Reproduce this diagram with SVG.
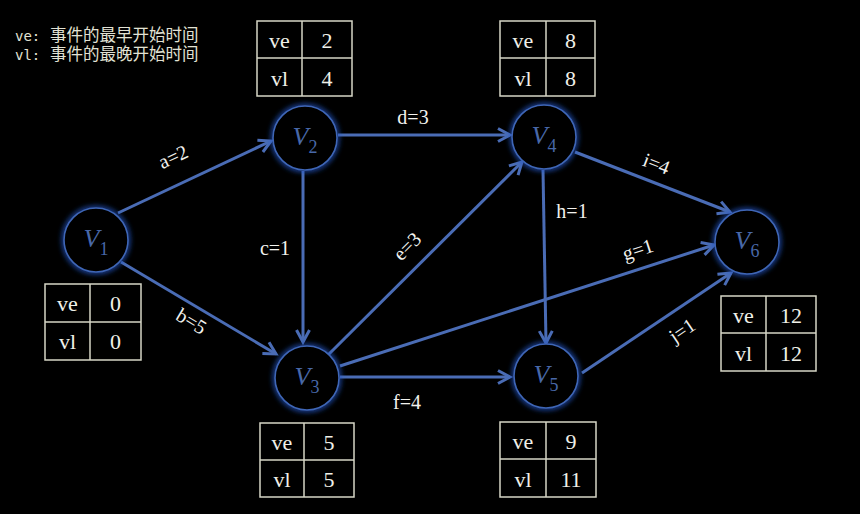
<svg xmlns="http://www.w3.org/2000/svg" width="860" height="514" viewBox="0 0 860 514">
  <style>
    .legend { font-family: "DejaVu Sans Mono", "Noto Sans CJK SC", monospace; fill: #e2e2d4; }
    .edge { stroke: #4a6cb5; stroke-width: 3; fill: none; marker-end: url(#arrow); }
    .elabel { font-family: "Liberation Serif", "Times New Roman", serif; font-size: 20px; fill: #f2f2ee; text-anchor: middle; }
    .ring-glow { fill: none; stroke: #2356c8; stroke-width: 5; stroke-opacity: 0.75; filter: url(#glow); }
    .ring { fill: none; stroke: #3f66b6; stroke-width: 1.6; }
    .vname { font-family: "Liberation Serif", "DejaVu Serif", serif; font-style: italic; font-size: 26px; fill: #4868a8; text-anchor: middle; }
    .vsub { font-style: normal; font-size: 18px; }
    .cell { fill: #000; stroke: #d6d6c6; stroke-width: 1.5; }
    .ttext { font-family: "Liberation Serif", "Times New Roman", serif; font-size: 22px; fill: #f0f0e8; text-anchor: middle; }
  </style>
  <defs>
    <marker id="arrow" markerUnits="userSpaceOnUse" markerWidth="20" markerHeight="20" viewBox="-16 -10 20 20" refX="0" refY="0" orient="auto">
      <path d="M -12 -6.5 L 0 0 L -12 6.5" fill="none" stroke="#4a6cb5" stroke-width="3" stroke-linejoin="miter"/>
    </marker>
    <filter id="glow" x="-50%" y="-50%" width="200%" height="200%">
      <feGaussianBlur stdDeviation="2.5"/>
    </filter>
  </defs>

  <rect width="860" height="514" fill="#000"/>

  <!-- legend -->
  <g id="legend" class="legend">
    <text x="15" y="41" font-size="14">ve:<tspan x="50" font-size="16.5">事件的最早开始时间</tspan></text>
    <text x="15" y="60" font-size="14">vl:<tspan x="50" font-size="16.5">事件的最晚开始时间</tspan></text>
  </g>

  <!-- connectors -->
  <g id="edges">
    <line class="edge" x1="118" y1="213" x2="271" y2="141"/>
    <line class="edge" x1="121" y1="262" x2="276" y2="354"/>
    <line class="edge" x1="303" y1="171" x2="303" y2="342"/>
    <line class="edge" x1="338" y1="135" x2="510" y2="135"/>
    <line class="edge" x1="328" y1="355" x2="522" y2="162"/>
    <line class="edge" x1="340" y1="377" x2="510" y2="377"/>
    <line class="edge" x1="340" y1="366" x2="714" y2="245"/>
    <line class="edge" x1="543" y1="170" x2="546" y2="343"/>
    <line class="edge" x1="575" y1="152" x2="730" y2="212"/>
    <line class="edge" x1="582" y1="373" x2="731" y2="273"/>
  </g>

  <!-- connector labels -->
  <g id="edge-labels">
    <text class="elabel" transform="translate(176,163) rotate(-25)">a=2</text>
    <text class="elabel" transform="translate(188,327) rotate(31)">b=5</text>
    <text class="elabel" x="275" y="255">c=1</text>
    <text class="elabel" x="413" y="124">d=3</text>
    <text class="elabel" transform="translate(412,251) rotate(-45)">e=3</text>
    <text class="elabel" x="407" y="409">f=4</text>
    <text class="elabel" transform="translate(640,256) rotate(-18)">g=1</text>
    <text class="elabel" x="572" y="218">h=1</text>
    <text class="elabel" transform="translate(654,170) rotate(21)">i=4</text>
    <text class="elabel" transform="translate(686,336) rotate(-34)">j=1</text>
  </g>

  <!-- nodes -->
  <g id="V1">
    <circle class="ring-glow" cx="96" cy="240" r="32"/>
    <circle cx="96" cy="240" r="32" fill="#000"/>
    <circle class="ring" cx="96" cy="240" r="32"/>
    <text class="vname" x="96" y="247">V<tspan class="vsub" dy="8">1</tspan></text>
  </g>
  <g id="V2">
    <circle class="ring-glow" cx="305" cy="138" r="32"/>
    <circle cx="305" cy="138" r="32" fill="#000"/>
    <circle class="ring" cx="305" cy="138" r="32"/>
    <text class="vname" x="305" y="145">V<tspan class="vsub" dy="8">2</tspan></text>
  </g>
  <g id="V3">
    <circle class="ring-glow" cx="307" cy="378" r="32"/>
    <circle cx="307" cy="378" r="32" fill="#000"/>
    <circle class="ring" cx="307" cy="378" r="32"/>
    <text class="vname" x="307" y="385">V<tspan class="vsub" dy="8">3</tspan></text>
  </g>
  <g id="V4">
    <circle class="ring-glow" cx="544" cy="137" r="32"/>
    <circle cx="544" cy="137" r="32" fill="#000"/>
    <circle class="ring" cx="544" cy="137" r="32"/>
    <text class="vname" x="544" y="144">V<tspan class="vsub" dy="8">4</tspan></text>
  </g>
  <g id="V5">
    <circle class="ring-glow" cx="546" cy="376" r="32"/>
    <circle cx="546" cy="376" r="32" fill="#000"/>
    <circle class="ring" cx="546" cy="376" r="32"/>
    <text class="vname" x="546" y="383">V<tspan class="vsub" dy="8">5</tspan></text>
  </g>
  <g id="V6">
    <circle class="ring-glow" cx="747" cy="242" r="32"/>
    <circle cx="747" cy="242" r="32" fill="#000"/>
    <circle class="ring" cx="747" cy="242" r="32"/>
    <text class="vname" x="747" y="249">V<tspan class="vsub" dy="8">6</tspan></text>
  </g>

  <!-- ve / vl tables -->
  <g id="table-V1">
    <rect class="cell" x="45" y="284" width="96" height="76"/>
    <line class="cell" x1="90" y1="284" x2="90" y2="360"/>
    <line class="cell" x1="45" y1="322" x2="141" y2="322"/>
    <text class="ttext" x="67.5" y="311">ve</text><text class="ttext" x="115.5" y="311">0</text>
    <text class="ttext" x="67.5" y="349">vl</text><text class="ttext" x="115.5" y="349">0</text>
  </g>
  <g id="table-V2">
    <rect class="cell" x="257" y="21" width="95" height="75"/>
    <line class="cell" x1="302" y1="21" x2="302" y2="96"/>
    <line class="cell" x1="257" y1="58" x2="352" y2="58"/>
    <text class="ttext" x="279.5" y="48">ve</text><text class="ttext" x="327" y="48">2</text>
    <text class="ttext" x="279.5" y="86">vl</text><text class="ttext" x="327" y="86">4</text>
  </g>
  <g id="table-V3">
    <rect class="cell" x="260" y="423" width="94" height="74"/>
    <line class="cell" x1="304" y1="423" x2="304" y2="497"/>
    <line class="cell" x1="260" y1="460" x2="354" y2="460"/>
    <text class="ttext" x="282" y="450">ve</text><text class="ttext" x="329" y="450">5</text>
    <text class="ttext" x="282" y="487">vl</text><text class="ttext" x="329" y="487">5</text>
  </g>
  <g id="table-V4">
    <rect class="cell" x="500" y="21" width="95" height="75"/>
    <line class="cell" x1="546" y1="21" x2="546" y2="96"/>
    <line class="cell" x1="500" y1="58" x2="595" y2="58"/>
    <text class="ttext" x="523" y="48">ve</text><text class="ttext" x="570.5" y="48">8</text>
    <text class="ttext" x="523" y="86">vl</text><text class="ttext" x="570.5" y="86">8</text>
  </g>
  <g id="table-V5">
    <rect class="cell" x="500" y="422" width="96" height="75"/>
    <line class="cell" x1="546" y1="422" x2="546" y2="497"/>
    <line class="cell" x1="500" y1="459" x2="596" y2="459"/>
    <text class="ttext" x="523" y="449">ve</text><text class="ttext" x="571" y="449">9</text>
    <text class="ttext" x="523" y="487">vl</text><text class="ttext" x="571" y="487">11</text>
  </g>
  <g id="table-V6">
    <rect class="cell" x="721" y="296" width="95" height="75"/>
    <line class="cell" x1="766" y1="296" x2="766" y2="371"/>
    <line class="cell" x1="721" y1="333" x2="816" y2="333"/>
    <text class="ttext" x="743.5" y="323">ve</text><text class="ttext" x="791" y="323">12</text>
    <text class="ttext" x="743.5" y="361">vl</text><text class="ttext" x="791" y="361">12</text>
  </g>
</svg>
